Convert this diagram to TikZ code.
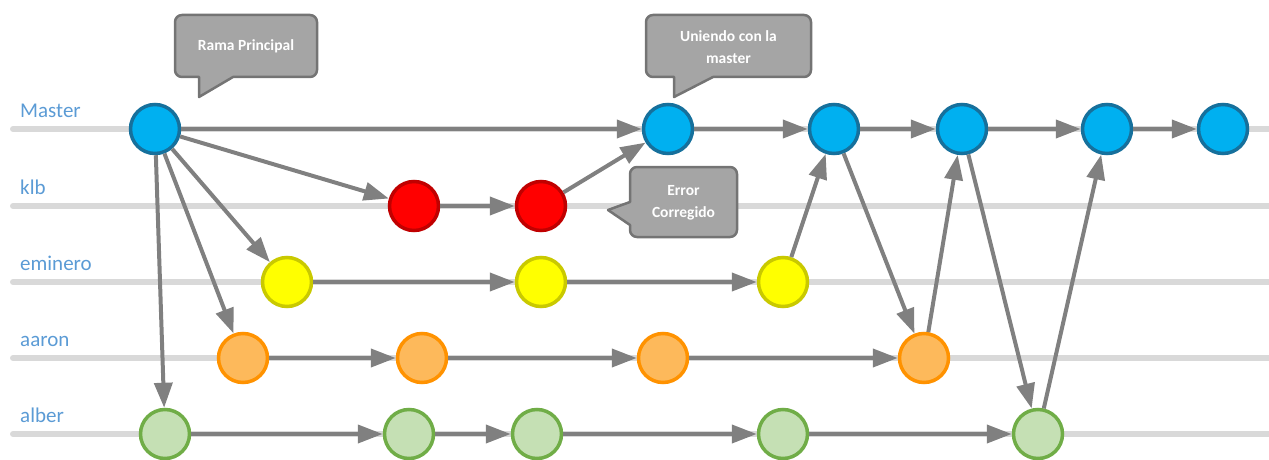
\documentclass[tikz,border=0pt]{standalone}
\usepackage{fontspec}
\setmainfont{Carlito}
\usetikzlibrary{arrows.meta,positioning}

\definecolor{azul}{HTML}{00B0F0}
\definecolor{azulborde}{HTML}{16709C}
\definecolor{rojo}{HTML}{FF0000}
\definecolor{rojoborde}{HTML}{C00000}
\definecolor{amarillo}{HTML}{FFFF00}
\definecolor{amarilloborde}{HTML}{C9C900}
\definecolor{naranja}{HTML}{FDB95B}
\definecolor{naranjaborde}{HTML}{FF9200}
\definecolor{verde}{HTML}{C5E0B4}
\definecolor{verdeborde}{HTML}{70AD47}
\definecolor{etiqueta}{HTML}{5B9BD5}
\definecolor{flecha}{HTML}{808080}
\definecolor{carril}{HTML}{D9D9D9}
\definecolor{globo}{HTML}{A5A5A5}
\definecolor{globoborde}{HTML}{747474}

\begin{document}
\begin{tikzpicture}[x=1pt,y=-1pt,->,>={Triangle[length=25pt,width=18pt]}]
\tikzstyle{commit}=[circle,draw,line width=3.5pt,minimum size=49pt,inner sep=0pt]
\tikzstyle{master}=[commit,fill=azul,draw=azulborde]
\tikzstyle{klb}=[commit,fill=rojo,draw=rojoborde]
\tikzstyle{eminero}=[commit,fill=amarillo,draw=amarilloborde]
\tikzstyle{aaron}=[commit,fill=naranja,draw=naranjaborde]
\tikzstyle{alber}=[commit,fill=verde,draw=verdeborde]
\tikzstyle{rotulo}=[anchor=base west,inner sep=0pt,text=etiqueta,font=\fontsize{21}{25}\selectfont]
\tikzstyle{carril}=[-,draw=carril,line width=6pt,line cap=round]
\tikzstyle{globo}=[-,fill=globo,draw=globoborde,line width=2.5pt,line join=round]
\tikzstyle{globotexto}=[text=white,align=center,font=\fontsize{15.5}{22}\selectfont\bfseries]
\tikzstyle{every edge}=[draw=flecha,line width=4pt]

\useasboundingbox (0,0) rectangle (1269,460);

% carriles
\node[rotulo] (lMaster)  at (20,117.5) {Master};
\node[rotulo] (lklb)     at (20,194.5) {klb};
\node[rotulo] (leminero) at (20,270.5) {eminero};
\node[rotulo] (laaron)   at (20,346.5) {aaron};
\node[rotulo] (lalber)   at (20,422.5) {alber};
\coordinate (cMaster)  at (13,129);
\coordinate (cklb)     at (13,206);
\coordinate (ceminero) at (13,282);
\coordinate (caaron)   at (13,358);
\coordinate (calber)   at (13,434);
\draw[carril] (cMaster) -- ++(1280,0);
\draw[carril] (cklb) -- ++(1280,0);
\draw[carril] (ceminero) -- ++(1280,0);
\draw[carril] (caaron) -- ++(1280,0);
\draw[carril] (calber) -- ++(1280,0);

% commits
\node[master]  (M1) at (155,129) {};
\node[master]  (M2) [right of=M1,node distance=513pt] {};
\node[master]  (M3) [right of=M2,node distance=166pt] {};
\node[master]  (M4) [right of=M3,node distance=128pt] {};
\node[master]  (M5) [right of=M4,node distance=145pt] {};
\node[master]  (M6) [right of=M5,node distance=116pt] {};
\node[klb]     (K1) at (414,206) {};
\node[klb]     (K2) [right of=K1,node distance=127pt] {};
\node[eminero] (E1) at (287,282) {};
\node[eminero] (E2) [right of=E1,node distance=254pt] {};
\node[eminero] (E3) [right of=E2,node distance=242pt] {};
\node[aaron]   (A1) at (243,358) {};
\node[aaron]   (A2) [right of=A1,node distance=179pt] {};
\node[aaron]   (A3) [right of=A2,node distance=241pt] {};
\node[aaron]   (A4) [right of=A3,node distance=261pt] {};
\node[alber]   (B1) at (165,434) {};
\node[alber]   (B2) [right of=B1,node distance=244pt] {};
\node[alber]   (B3) [right of=B2,node distance=128pt] {};
\node[alber]   (B4) [right of=B3,node distance=246pt] {};
\node[alber]   (B5) [right of=B4,node distance=255pt] {};

\path
(M1) edge (M2)
(M2) edge (M3)
(M3) edge (M4)
(M4) edge (M5)
(M5) edge (M6)
(M1) edge (K1)
(K1) edge (K2)
(K2) edge (M2)
(M1) edge (E1)
(E1) edge (E2)
(E2) edge (E3)
(E3) edge (M3)
(M1) edge (A1)
(A1) edge (A2)
(A2) edge (A3)
(A3) edge (A4)
(M3) edge (A4)
(A4) edge (M4)
(M1) edge (B1)
(B1) edge (B2)
(B2) edge (B3)
(B3) edge (B4)
(B4) edge (B5)
(M4) edge (B5)
(B5) edge (M5)
;

% globos
\draw[globo] (199,97) -- (199,77) [rounded corners=7pt] -- (175,77) -- (175,15) -- (317,15) -- (317,77) [sharp corners] -- (233,77) -- cycle;
\node[globotexto] (tRama) at (246,46) {Rama Principal};
\draw[globo] (674,97) -- (674,77) [rounded corners=7pt] -- (646,77) -- (646,15) -- (811,15) -- (811,77) [sharp corners] -- (713,77) -- cycle;
\node[globotexto] (tUniendo) at (728.5,47) {Uniendo con la\\master};
\draw[globo] (608,210) -- (630,202) [rounded corners=7pt] -- (630,167) -- (737,167) -- (737,237) -- (630,237) [sharp corners] -- (630,225) -- cycle;
\node[globotexto] (tError) at (683.5,203) {Error\\Corregido};
\end{tikzpicture}
\end{document}
